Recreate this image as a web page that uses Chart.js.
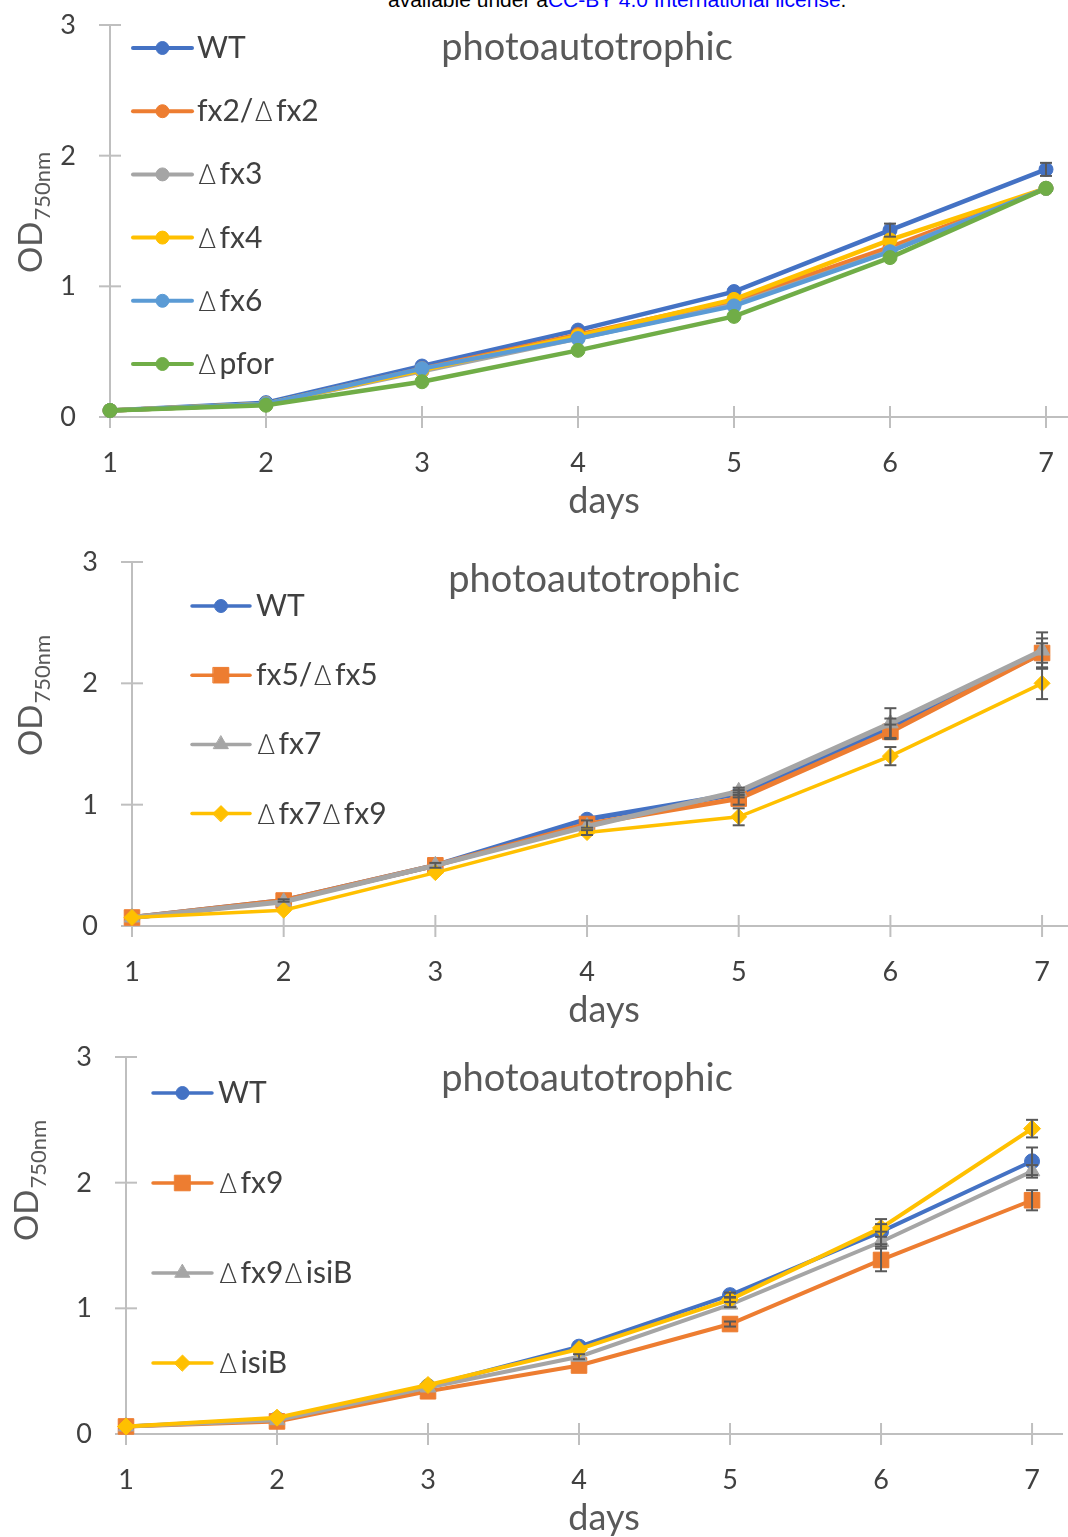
<!DOCTYPE html>
<html><head><meta charset="utf-8">
<script src="https://cdn.jsdelivr.net/npm/chart.js@4.4.0/dist/chart.umd.min.js"></script>
<style>
html,body{margin:0;padding:0;background:#fff}
body{width:1068px;height:1537px;overflow:hidden;position:relative}
canvas{position:absolute;left:0}
#note{position:absolute;top:-12px;left:388px;font:21px "Liberation Sans",Arial,sans-serif;color:#000;white-space:nowrap;line-height:24px}
#note span{color:#0000ff}
</style></head><body>
<div id="note">available under a<span>CC-BY 4.0 International license</span>.</div>
<canvas id="c1" width="1068" height="520" style="top:0"></canvas>
<canvas id="c2" width="1068" height="510" style="top:520px"></canvas>
<canvas id="c3" width="1068" height="507" style="top:1030px"></canvas>
<script>
// ---------- DATA ----------
const days = [1, 2, 3, 4, 5, 6, 7];
const yTicks = [0, 1, 2, 3];
const titleText = 'photoautotrophic';
const xTitle = 'days';

// Panel A
const a_labels = ['WT', 'fx2/∆fx2', '∆fx3', '∆fx4', '∆fx6', '∆pfor'];
const a_WT   = [0.05, 0.11, 0.39, 0.665, 0.96, 1.43, 1.895];
const a_fx2  = [0.05, 0.10, 0.37, 0.63, 0.89, 1.30, 1.75];
const a_fx3  = [0.05, 0.10, 0.35, 0.60, 0.86, 1.27, 1.75];
const a_fx4  = [0.05, 0.10, 0.36, 0.62, 0.90, 1.355, 1.75];
const a_fx6  = [0.05, 0.10, 0.37, 0.60, 0.85, 1.265, 1.75];
const a_pfor = [0.05, 0.09, 0.27, 0.51, 0.77, 1.22, 1.75];
const a_WT_err   = [0, 0, 0, 0, 0, 0.05, 0.05];
const a_fx2_err  = [0, 0, 0, 0, 0, 0, 0];
const a_fx3_err  = [0, 0, 0, 0, 0, 0, 0];
const a_fx4_err  = [0, 0, 0, 0, 0, 0, 0];
const a_fx6_err  = [0, 0, 0, 0, 0, 0, 0];
const a_pfor_err = [0, 0, 0, 0, 0, 0, 0];

// Panel B
const b_labels = ['WT', 'fx5/∆fx5', '∆fx7', '∆fx7∆fx9'];
const b_WT     = [0.07, 0.21, 0.50, 0.88, 1.09, 1.63, 2.25];
const b_fx5    = [0.07, 0.21, 0.50, 0.84, 1.05, 1.60, 2.25];
const b_fx7    = [0.07, 0.20, 0.50, 0.82, 1.11, 1.67, 2.27];
const b_fx7fx9 = [0.07, 0.13, 0.44, 0.77, 0.90, 1.40, 2.00];
const b_WT_err     = [0, 0, 0, 0, 0.03, 0.08, 0.12];
const b_fx5_err    = [0, 0.01, 0.02, 0.03, 0.05, 0.06, 0.08];
const b_fx7_err    = [0, 0, 0, 0, 0.03, 0.125, 0.15];
const b_fx7fx9_err = [0, 0, 0, 0.02, 0.07, 0.075, 0.13];

// Panel C
const c_labels = ['WT', '∆fx9', '∆fx9∆isiB', '∆isiB'];
const c_WT      = [0.06, 0.12, 0.38, 0.695, 1.105, 1.61, 2.17];
const c_fx9     = [0.06, 0.10, 0.34, 0.545, 0.875, 1.385, 1.86];
const c_fx9isiB = [0.06, 0.11, 0.37, 0.615, 1.03, 1.53, 2.09];
const c_isiB    = [0.06, 0.13, 0.39, 0.675, 1.07, 1.64, 2.43];
const c_WT_err      = [0, 0, 0, 0, 0.02, 0.10, 0.11];
const c_fx9_err     = [0, 0, 0, 0, 0.02, 0.09, 0.08];
const c_fx9isiB_err = [0, 0, 0, 0.02, 0.02, 0.04, 0.05];
const c_isiB_err    = [0, 0, 0, 0, 0.02, 0.03, 0.07];

// ---------- STYLES ----------
const C = {blue:'#4472C4', orange:'#ED7D31', gray:'#A5A5A5', yellow:'#FFC000', lblue:'#5B9BD5', green:'#70AD47'};
const AXIS = '#BFBFBF', TXT = '#404040', TTL = '#595959', ERR = '#595959';
const FONT = 'Lato, "Open Sans", sans-serif';
const DELTA_FONT = '200 27px "DejaVu Sans", sans-serif';

function line(ctx, x1, y1, x2, y2) { ctx.beginPath(); ctx.moveTo(x1, y1); ctx.lineTo(x2, y2); ctx.stroke(); }

function marker(ctx, style, r, x, y, color) {
  ctx.fillStyle = color; ctx.strokeStyle = color; ctx.lineWidth = 1;
  if (Chart.helpers && Chart.helpers.drawPoint) {
    Chart.helpers.drawPoint(ctx, {pointStyle: style, radius: r, rotation: 0, borderWidth: 1}, x, y);
  } else {
    ctx.beginPath(); ctx.arc(x, y, r, 0, Math.PI * 2); ctx.fill();
  }
}

// draw a legend label, with the delta sign set in a lighter face like the original
function drawLabel(ctx, text, x, y, size) {
  const parts = text.split(/(∆)/);
  let cx = x;
  parts.forEach(part => {
    if (!part) return;
    if (part === '∆') {
      ctx.font = DELTA_FONT;
      ctx.fillText(part, cx + 1, y);
      cx += ctx.measureText(part).width + 4;
    } else {
      ctx.font = size + 'px ' + FONT;
      ctx.fillText(part, cx, y);
      cx += ctx.measureText(part).width;
    }
  });
}

function buildChart(id, p) {
  const plugin = {
    id: 'excelLook',
    beforeDatasetsDraw(chart) {
      const ctx = chart.ctx, xs = chart.scales.x, ys = chart.scales.y, ca = chart.chartArea;
      ctx.save();
      ctx.strokeStyle = AXIS; ctx.lineWidth = 2;
      const xl = xs.getPixelForValue(days[0]);
      const y0 = ys.getPixelForValue(yTicks[0]);
      const yT = ys.getPixelForValue(yTicks[yTicks.length - 1]);
      line(ctx, xl, yT, xl, y0);
      yTicks.forEach(v => { const y = ys.getPixelForValue(v); line(ctx, xl - 11, y, xl + 11, y); });
      line(ctx, xl - 11, y0, ca.right, y0);
      days.forEach(d => { const x = xs.getPixelForValue(d); line(ctx, x, y0 - 11, x, y0 + 11); });
      // tick labels
      ctx.fillStyle = TXT; ctx.font = '27px ' + FONT;
      ctx.textAlign = 'right'; ctx.textBaseline = 'alphabetic';
      yTicks.forEach(v => ctx.fillText(String(v), xl - 34, ys.getPixelForValue(v) + 9));
      ctx.textAlign = 'center';
      days.forEach(d => ctx.fillText(String(d), xs.getPixelForValue(d), y0 + 55));
      // x title
      ctx.fillStyle = TTL; ctx.font = '36px ' + FONT;
      ctx.fillText(xTitle, p.daysX, y0 + 96);
      // chart title
      ctx.font = '38px ' + FONT;
      ctx.fillText(titleText, p.titleX, p.titleY);
      // y title with subscript
      ctx.save();
      ctx.translate(p.yTitleX, p.yTitleY);
      ctx.rotate(-Math.PI / 2);
      ctx.font = '33px ' + FONT;
      const w1 = ctx.measureText('OD').width;
      ctx.font = '22px ' + FONT;
      const w2 = ctx.measureText('750nm').width;
      const start = -(w1 + w2) / 2;
      ctx.textAlign = 'left';
      ctx.font = '33px ' + FONT;
      ctx.fillText('OD', start, 0);
      ctx.font = '22px ' + FONT;
      ctx.fillText('750nm', start + w1 + 1, 8);
      ctx.restore();
      ctx.restore();
    },
    afterDatasetsDraw(chart) {
      const ctx = chart.ctx, xs = chart.scales.x, ys = chart.scales.y;
      ctx.save();
      ctx.strokeStyle = ERR; ctx.lineWidth = 2;
      p.series.forEach(s => {
        s.err.forEach((e, j) => {
          if (!e) return;
          const x = xs.getPixelForValue(days[j]);
          const yt = ys.getPixelForValue(s.data[j] + e), yb = ys.getPixelForValue(s.data[j] - e);
          line(ctx, x, yt, x, yb);
          line(ctx, x - 6, yt, x + 6, yt);
          line(ctx, x - 6, yb, x + 6, yb);
        });
      });
      ctx.restore();
    },
    afterDraw(chart) {
      const ctx = chart.ctx, L = p.legend;
      ctx.save();
      p.series.forEach((s, i) => {
        const y = L.y0 + i * L.dy;
        ctx.strokeStyle = s.color; ctx.lineWidth = L.lw; ctx.lineCap = 'round';
        line(ctx, L.x0, y, L.x1, y);
        marker(ctx, s.style, s.legR, (L.x0 + L.x1) / 2, y, s.color);
        ctx.fillStyle = TXT;
        ctx.textAlign = 'left'; ctx.textBaseline = 'alphabetic';
        drawLabel(ctx, p.labels[i], L.tx, y + 10, L.font);
      });
      ctx.restore();
    }
  };

  const datasets = p.series.map((s, i) => ({
    label: p.labels[i],
    data: days.map((d, j) => ({x: d, y: s.data[j]})),
    borderColor: s.color, backgroundColor: s.color,
    pointBackgroundColor: s.color, pointBorderColor: s.color,
    pointStyle: s.style, pointRadius: s.r, pointBorderWidth: 1,
    borderWidth: s.w, tension: 0, clip: false, order: -i
  }));

  return new Chart(document.getElementById(id), {
    type: 'line',
    data: {datasets},
    options: {
      responsive: false, animation: false, devicePixelRatio: 1,
      layout: {autoPadding: false, padding: {top: p.top, left: 0, right: p.padR || 0, bottom: 0}},
      plugins: {legend: {display: false}, tooltip: {enabled: false}},
      scales: {
        x: {type: 'linear', min: days[0], max: p.xMax,
            afterBuildTicks(s) { s.ticks = days.map(v => ({value: v})); },
            ticks: {display: false}, grid: {display: false}, border: {display: false},
            afterFit(s) { s.height = p.xh; }},
        y: {type: 'linear', min: yTicks[0], max: yTicks[yTicks.length - 1],
            afterBuildTicks(s) { s.ticks = yTicks.map(v => ({value: v})); },
            ticks: {display: false}, grid: {display: false}, border: {display: false},
            afterFit(s) { s.width = p.left; }}
      }
    },
    plugins: [plugin]
  });
}

buildChart('c1', {
  labels: a_labels, top: 25, left: 110, xh: 103, xMax: 7.141,
  titleX: 587, titleY: 60, daysX: 604, yTitleX: 42, yTitleY: 213,
  legend: {x0: 133, x1: 192, tx: 197, y0: 48, dy: 63.2, lw: 4, font: 30},
  series: [
    {data: a_WT,   err: a_WT_err,   color: C.blue,   style: 'circle', r: 7, w: 4.5, legR: 6.5},
    {data: a_fx2,  err: a_fx2_err,  color: C.orange, style: 'circle', r: 7, w: 4.5, legR: 6.5},
    {data: a_fx3,  err: a_fx3_err,  color: C.gray,   style: 'circle', r: 7, w: 4.5, legR: 6.5},
    {data: a_fx4,  err: a_fx4_err,  color: C.yellow, style: 'circle', r: 7, w: 4.5, legR: 6.5},
    {data: a_fx6,  err: a_fx6_err,  color: C.lblue,  style: 'circle', r: 7, w: 4.5, legR: 6.5},
    {data: a_pfor, err: a_pfor_err, color: C.green,  style: 'circle', r: 7, w: 4.5, legR: 6.5}
  ]
});

buildChart('c2', {
  labels: b_labels, top: 42, left: 132, xh: 104, xMax: 7.171,
  titleX: 594, titleY: 72, daysX: 604, yTitleX: 42, yTitleY: 176,
  legend: {x0: 192, x1: 250, tx: 256, y0: 86, dy: 69.2, lw: 3.5, font: 30},
  series: [
    {data: b_WT,     err: b_WT_err,     color: C.blue,   style: 'circle',   r: 7,  w: 5,   legR: 6.5},
    {data: b_fx5,    err: b_fx5_err,    color: C.orange, style: 'rect',     r: 11, w: 5,   legR: 11},
    {data: b_fx7,    err: b_fx7_err,    color: C.gray,   style: 'triangle', r: 9,  w: 5,   legR: 8.5},
    {data: b_fx7fx9, err: b_fx7fx9_err, color: C.yellow, style: 'rectRot',  r: 8,  w: 3.5, legR: 8}
  ]
});

buildChart('c3', {
  labels: c_labels, top: 27, left: 126, xh: 103, xMax: 7.205, padR: 5,
  titleX: 587, titleY: 61, daysX: 604, yTitleX: 38, yTitleY: 151,
  legend: {x0: 153, x1: 212, tx: 218, y0: 63, dy: 90, lw: 3.5, font: 30},
  series: [
    {data: c_WT,      err: c_WT_err,      color: C.blue,   style: 'circle',   r: 7.5, w: 4, legR: 6.5},
    {data: c_fx9,     err: c_fx9_err,     color: C.orange, style: 'rect',     r: 11,  w: 4, legR: 11},
    {data: c_fx9isiB, err: c_fx9isiB_err, color: C.gray,   style: 'triangle', r: 9,   w: 4, legR: 8.5},
    {data: c_isiB,    err: c_isiB_err,    color: C.yellow, style: 'rectRot',  r: 8.5, w: 4, legR: 8}
  ]
});
</script>
</body></html>
